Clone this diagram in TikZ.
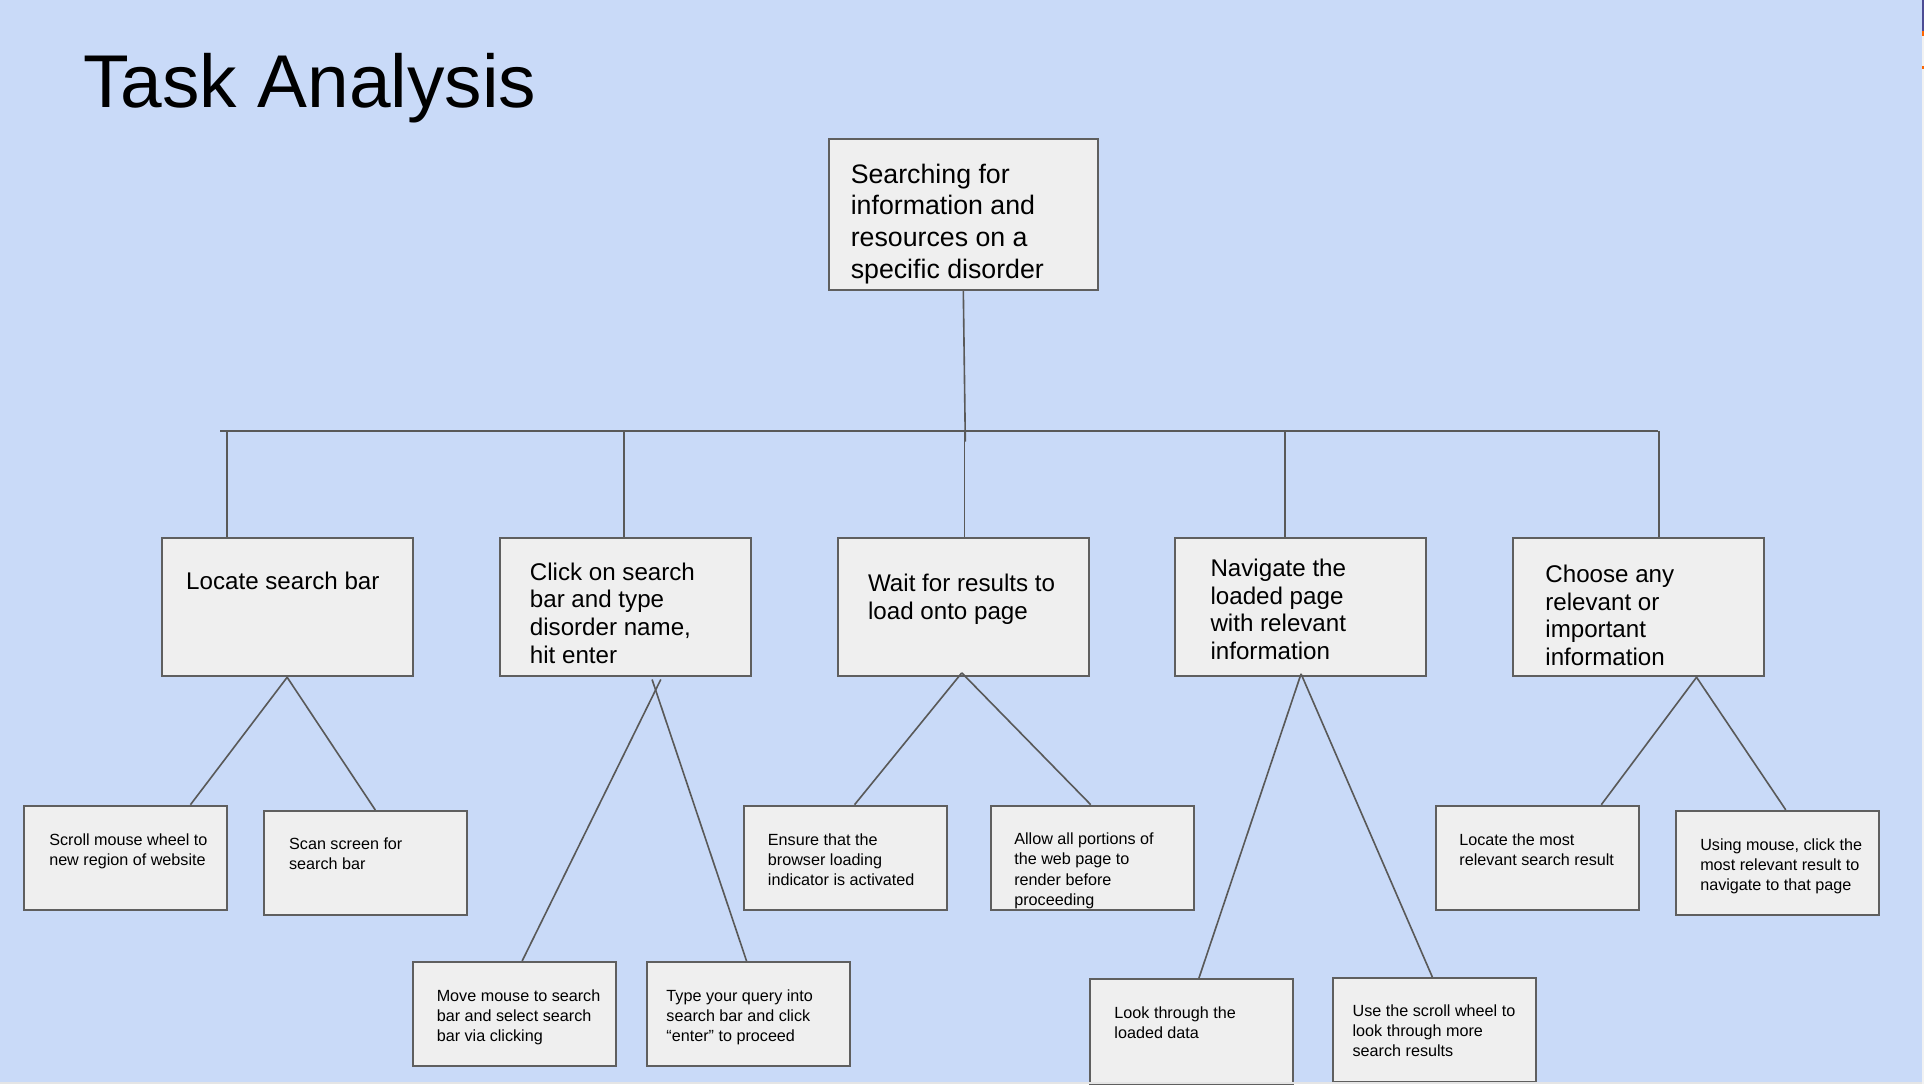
\documentclass[tikz,border=0pt]{standalone}
\usepackage{fontspec}
\setmainfont{Liberation Sans}

\definecolor{slidebg}{HTML}{C9DAF8}
\definecolor{boxfill}{HTML}{EFEFEF}
\definecolor{boxline}{HTML}{5F5F5F}
\definecolor{wireline}{HTML}{595959}

\tikzset{
	task/.style={draw=boxline, fill=boxfill, line width=0.9pt, anchor=north west, inner sep=0pt},
	maintask/.style={task, minimum width=4.38cm, minimum height=2.46cm},
	subtask/.style={task, minimum width=4.09cm, minimum height=2.26cm},
	steptask/.style={task, minimum width=3.31cm, minimum height=1.70cm},
	txt/.style={anchor=base west, inner sep=0pt, align=left},
	maintxt/.style={txt, font=\fontsize{12.4}{14.7}\selectfont},
	subtxt/.style={txt, font=\fontsize{11.2}{12.9}\selectfont},
	steptxt/.style={txt, font=\fontsize{7.5}{9.3}\selectfont},
	wire/.style={draw=wireline, line width=0.75pt}
}

\begin{document}
\begin{tikzpicture}[x=0.02cm, y=-0.02cm]

	\fill[slidebg] (0,0) rectangle (1568,883.5);
	\useasboundingbox (0,0) rectangle (1568,883.5);

	\node[anchor=base west, inner sep=0pt, font=\fontsize{34.7}{40}\selectfont] (title) at (67.5,88) {Task Analysis};

	\node[maintask] (top) at (674.8,112.7) {};

	\node[subtask] (b1) at (131,437.4) {};
	\node[subtask] (b2) at (406.7,437.4) {};
	\node[subtask] (b3) at (682.1,437.4) {};
	\node[subtask] (b4) at (957.1,437.4) {};
	\node[subtask] (b5) at (1232.6,437.4) {};

	\node[steptask] (s11) at (18.7,655.8) {};
	\node[steptask] (s12) at (214.7,660.1) {};
	\node[steptask] (s21) at (335.5,783.2) {};
	\node[steptask] (s22) at (526.8,783.2) {};
	\node[steptask] (s31) at (605.4,655.8) {};
	\node[steptask] (s32) at (806.6,655.8) {};
	\node[steptask] (s41) at (887.6,797.3) {};
	\node[steptask] (s42) at (1085.5,796.3) {};
	\node[steptask] (s51) at (1169.3,655.8) {};
	\node[steptask] (s52) at (1365,660) {};

	\coordinate (barL) at (179.5,351.3);
	\coordinate (barR) at (1351.5,351.3);
	\coordinate (hub) at (786.7,360);

	\draw[wire, line width=1.1pt] (barL) -- (barR);
	\draw[wire] (top.south) -- (hub);
	\foreach \b/\dx in {b1/-48.8, b2/-1, b3/0.8, b4/-12.8, b5/16.3}
		\draw[wire] ([shift={(\dx,0)}]\b.north) -- ++(0,-86.1);

	\draw[wire] (b1.south) -- ([shift={(53,0)}]s11.north);
	\draw[wire] (b1.south) -- ([shift={(7.6,0)}]s12.north);
	\draw[wire] ([shift={(28.8,1.8)}]b2.south) -- ([shift={(6.5,0)}]s21.north);
	\draw[wire] ([shift={(21.7,1.8)}]b2.south) -- ([shift={(-1.9,0)}]s22.north);
	\draw[wire] ([shift={(-1.3,-3.6)}]b3.south) -- ([shift={(7.5,0)}]s31.north);
	\draw[wire] ([shift={(-1.3,-3.6)}]b3.south) -- ([shift={(-1.2,0)}]s32.north);
	\draw[wire] ([shift={(0.2,-2.8)}]b4.south) -- ([shift={(5.9,0)}]s41.north);
	\draw[wire] ([shift={(0.2,-2.8)}]b4.south) -- ([shift={(-1.7,0)}]s42.north);
	\draw[wire] ([shift={(47,0)}]b5.south) -- ([shift={(52.2,0)}]s51.north);
	\draw[wire] ([shift={(47,0)}]b5.south) -- ([shift={(6.8,0)}]s52.north);

	\node[maintxt] (ttop) at (693,226.8) {Searching for\\information and\\resources on a\\specific disorder};

	\node[subtxt] (t1) at (151.4,480.8) {Locate search bar};
	\node[subtxt] (t2) at (431.5,540.7) {Click on search\\bar and type\\disorder name,\\hit enter};
	\node[subtxt] (t3) at (707.1,504.8) {Wait for results to\\load onto page};
	\node[subtxt] (t4) at (986.2,537.6) {Navigate the\\loaded page\\with relevant\\information};
	\node[subtxt] (t5) at (1259.1,542.6) {Choose any\\relevant or\\important\\information};

	\node[steptxt] (t11) at (39.8,705) {Scroll mouse wheel to\\new region of website};
	\node[steptxt] (t12) at (235.3,709) {Scan screen for\\search bar};
	\node[steptxt] (t21) at (355.6,848.5) {Move mouse to search\\bar and select search\\bar via clicking};
	\node[steptxt] (t22) at (542.8,848.5) {Type your query into\\search bar and click\\“enter” to proceed};
	\node[steptxt] (t31) at (625.5,721.4) {Ensure that the\\browser loading\\indicator is activated};
	\node[steptxt] (t32) at (826.3,737.6) {Allow all portions of\\the web page to\\render before\\proceeding};
	\node[steptxt] (t41) at (907.9,846.2) {Look through the\\loaded data};
	\node[steptxt] (t42) at (1102,861.3) {Use the scroll wheel to\\look through more\\search results};
	\node[steptxt] (t51) at (1189,705) {Locate the most\\relevant search result};
	\node[steptxt] (t52) at (1385.3,725.4) {Using mouse, click the\\most relevant result to\\navigate to that page};

	\fill[black!10] (0,881.6) rectangle (1568,883.5);
	\fill[black!5] (1566.6,0) rectangle (1568,883.5);
	\fill[black!60!blue!70] (1566.6,0) rectangle (1568,25);
	\fill[orange!80!red] (1566.6,25) rectangle (1568,29);
	\fill[orange!80!red] (1566.6,54) rectangle (1568,56);

\end{tikzpicture}
\end{document}
